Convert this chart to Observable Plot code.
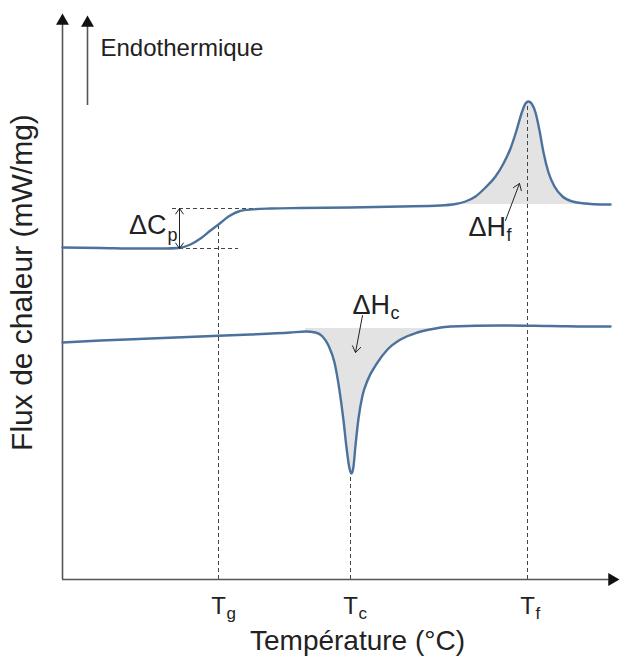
<!DOCTYPE html>
<html>
<head>
<meta charset="utf-8">
<script src="https://cdn.jsdelivr.net/npm/d3@7"></script>
<script src="https://cdn.jsdelivr.net/npm/@observablehq/plot@0.6"></script>
<style>
  body { margin: 0; background: #fff; }
  #chart svg { display: block; }
</style>
</head>
<body>
<div id="chart"></div>
<script>
// ---- Data (schematic units: temperature along x, heat flux along y) ----
const topT    = [0, 38, 78, 103, 116, 128, 138, 148, 156, 166, 176, 188, 208, 238, 288, 338, 378, 393, 403, 413, 423, 433, 441, 448, 454, 459, 463, 466, 469, 473, 477, 481, 486, 492, 500, 510, 523, 538, 548];
const topFlux = [332, 331.5, 331, 331, 331.5, 335, 341, 349, 355, 363, 368, 370, 371, 371.5, 372, 373, 374, 375.5, 378, 383, 392, 403, 416, 431, 449, 466, 476, 478, 476, 467, 449, 427, 407, 393, 383, 378, 376, 375, 375];

const bottomT    = [0, 38, 88, 138, 188, 228, 243, 253, 260, 266, 272, 277, 281, 284, 287, 289, 291, 293, 296, 300, 305, 315, 325, 338, 355, 373, 388, 438, 488, 538, 548];
const bottomFlux = [237, 239, 241, 243, 245, 247, 248, 247, 243, 234, 217, 189, 159, 132, 111, 106, 113, 134, 161, 184, 199, 217, 230, 240, 247, 251, 253, 254, 253.5, 253, 253];

const peakBase = 375;             // fusion baseline
const peakRange = [378, 540];
const dipBase = 251;              // crystallisation baseline
const dipRange = [243, 373];

// characteristic temperatures (tick labels)
const tickT    = [156, 288, 465];
const tickMain = ["T", "T", "T"];
const tickSubs = ["g", "c", "f"];
const tickTop  = [355, 106, 478];  // where the dashed guide meets the curve

// ΔCp guides
const cpLevels = [371, 331];
const cpX1     = [110, 110];
const cpX2     = [193, 176];

// axes frame
const xAxisEnd = 549.5;
const yAxisEnd = 558.5;
const endoT = 25, endoFrom = 474, endoTo = 556.5;

// annotation arrows
const annArrows = [
  {x1: 117, y1: 351, x2: 117, y2: 371},
  {x1: 117, y1: 351, x2: 117, y2: 331},
  {x1: 300, y1: 264, x2: 293, y2: 227},
  {x1: 443, y1: 359, x2: 457, y2: 396}
];

// labels
const cpLabel  = [{x: 104, y: 346, text: "ΔC"}];
const dhLabels = [
  {x: 290, y: 266, text: "ΔH"},
  {x: 406, y: 344, text: "ΔH"}
];
const subLabels = [
  {x: 105, y: 339, text: "p"},
  {x: 328, y: 261, text: "c"},
  {x: 444, y: 339, text: "f"}
];

// ---- Build ----
const heatCurve = topT.map((t, i) => ({t, f: topFlux[i]}));
const coolCurve = bottomT.map((t, i) => ({t, f: bottomFlux[i]}));
const ticks = tickT.map((t, i) => ({t, main: tickMain[i], sub: tickSubs[i], top: tickTop[i]}));
const cp = cpLevels.map((f, i) => ({f, x1: cpX1[i], x2: cpX2[i]}));

const ink = "#222";
const curveColor = "#4b729b";
const dash = "#444";
const font = "Liberation Sans, Arial, Helvetica, sans-serif";

const chart = Plot.plot({
  width: 620,
  height: 660,
  margin: 0,
  x: {domain: [-62, 558], range: [0, 620], axis: null},
  y: {domain: [-81, 579], range: [660, 0], axis: null},
  style: {fontFamily: font, background: "#fff", overflow: "visible"},
  marks: [
    // shaded enthalpy areas
    Plot.areaY(heatCurve.filter(d => d.t >= peakRange[0] && d.t <= peakRange[1]), {
      x: "t", y1: peakBase, y2: d => Math.max(d.f, peakBase), fill: "#e3e3e3", curve: "monotone-x"
    }),
    Plot.areaY(coolCurve.filter(d => d.t >= dipRange[0] && d.t <= dipRange[1]), {
      x: "t", y1: dipBase, y2: d => Math.min(d.f, dipBase), fill: "#e3e3e3", curve: "monotone-x"
    }),
    // dashed guides
    Plot.ruleX(ticks, {x: "t", y1: 0, y2: "top", stroke: dash, strokeWidth: 1, strokeDasharray: "4,3"}),
    Plot.ruleY(cp, {y: "f", x1: "x1", x2: "x2", stroke: dash, strokeWidth: 1, strokeDasharray: "4,3"}),
    // axes
    Plot.ruleX([0], {y1: 0, y2: yAxisEnd - 3, stroke: "#555", strokeWidth: 1.6}),
    Plot.ruleY([0], {x1: 0, x2: xAxisEnd - 3, stroke: "#555", strokeWidth: 1.6}),
    Plot.ruleX([endoT], {y1: endoFrom, y2: endoTo - 3, stroke: "#555", strokeWidth: 1.6}),
    Plot.dot([{x: 0, y: yAxisEnd}, {x: endoT, y: endoTo}], {x: "x", y: "y", symbol: "triangle", r: 4.8, fill: "#111", stroke: "none"}),
    Plot.dot([{x: xAxisEnd, y: 0}], {x: "x", y: "y", symbol: "triangle", r: 4.8, fill: "#111", stroke: "none", rotate: 90}),
    // DSC curves
    Plot.line(heatCurve, {x: "t", y: "f", stroke: curveColor, strokeWidth: 2.4, curve: "monotone-x"}),
    Plot.line(coolCurve, {x: "t", y: "f", stroke: curveColor, strokeWidth: 2.4, curve: "monotone-x"}),
    // annotation arrows
    Plot.arrow(annArrows, {x1: "x1", y1: "y1", x2: "x2", y2: "y2", stroke: ink, strokeWidth: 1, headLength: 11, headAngle: 70, bend: 0}),
    // labels
    Plot.text(cpLabel, {x: "x", y: "y", text: "text", textAnchor: "end", fontSize: 27, lineAnchor: "bottom", fill: ink}),
    Plot.text(dhLabels, {x: "x", y: "y", text: "text", textAnchor: "start", fontSize: 27, lineAnchor: "bottom", fill: ink}),
    Plot.text(subLabels, {x: "x", y: "y", text: "text", textAnchor: "start", fontSize: 18, lineAnchor: "bottom", fill: ink}),
    Plot.text(ticks, {x: "t", y: -34, text: "main", textAnchor: "middle", fontSize: 24, lineAnchor: "bottom", fill: ink}),
    Plot.text(ticks, {x: "t", y: -39, dx: 8, text: "sub", textAnchor: "start", fontSize: 17, lineAnchor: "bottom", fill: ink}),
    Plot.text(["Endothermique"], {x: 38, y: 524, textAnchor: "start", fontSize: 24, lineAnchor: "bottom", fill: ink}),
    Plot.text(["Température (°C)"], {x: 295, y: -70, textAnchor: "middle", fontSize: 28, lineAnchor: "bottom", fill: ink}),
    Plot.text(["Flux de chaleur (mW/mg)"], {x: -40, y: 297, rotate: -90, textAnchor: "middle", lineAnchor: "middle", fontSize: 30, fill: ink})
  ]
});

document.getElementById("chart").appendChild(chart);
</script>
</body>
</html>
